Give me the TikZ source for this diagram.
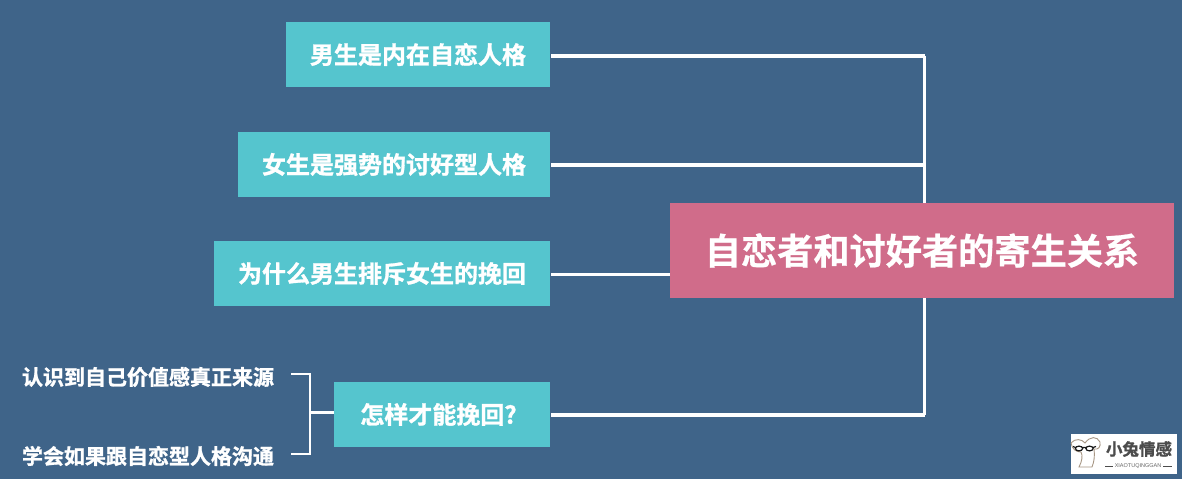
\documentclass[tikz,border=0pt]{standalone}
\usepackage{fontspec}
\newfontfamily\cjkb[FakeBold=1.2]{Noto Sans CJK SC Bold}
\newfontfamily\cjkm[FakeBold=0.6]{Noto Sans CJK SC Bold}
\newfontfamily\logolat{Liberation Sans}
\definecolor{bgc}{HTML}{3F6489}
\definecolor{tealc}{HTML}{55C5CE}
\definecolor{pinkc}{HTML}{D06C8A}
\tikzset{
  tealbox/.style={fill=tealc,text=white,inner sep=0pt,minimum height=65pt,font=\cjkb\fontsize{24}{24}\selectfont},
  mainbox/.style={fill=pinkc,text=white,inner sep=0pt,minimum width=504pt,minimum height=95pt,font=\cjkm\fontsize{36.2}{36}\selectfont},
  sidetext/.style={text=white,inner sep=0pt,font=\cjkb\fontsize{21}{21}\selectfont},
  link/.style={draw=white,line width=3.8pt},
  thinlink/.style={draw=white,line width=2.4pt}
}
\begin{document}
\begin{tikzpicture}[x=1pt,y=-1pt]
\path[use as bounding box,fill=bgc] (0,0) rectangle (1182,479);
\coordinate (t1) at (924.5,56);
\coordinate (t2) at (924.5,165);
\coordinate (t3) at (670,274.5);
\coordinate (t4) at (924.5,415);
\node[tealbox,minimum width=264pt] (a) at (418,54.5) {男生是内在自恋人格};
\node[tealbox,minimum width=312pt] (b) at (394,164.5) {女生是强势的讨好型人格};
\node[tealbox,minimum width=336pt] (c) at (382,273.5) {为什么男生排斥女生的挽回};
\node[tealbox,minimum width=216pt] (d) at (442,414.5) {\hspace*{-7pt}怎样才能挽回?};
\node[sidetext] (s1) at (148,377) {认识到自己价值感真正来源};
\node[sidetext] (s2) at (148,456) {学会如果跟自恋型人格沟通};
\draw[link,shorten >=1pt] (t1) -- (a.east |- t1);
\draw[link] (t1) -- (t4);
\draw[link,shorten >=1pt] (t4) -- (d.east |- t4);
\draw[link,shorten <=1pt] (b.east |- t2) -- (t2);
\draw[link,shorten <=1pt] (c.east |- t3) -- (t3);
\node[mainbox] (main) at (922,250.5) {自恋者和讨好者的寄生关系};
% small bracket
\coordinate (b1) at (291,374);
\coordinate (b2) at (310,374);
\coordinate (b3) at (310,454);
\coordinate (b4) at (291,454);
\coordinate (bm) at (310,412.5);
\draw[thinlink] (b1) -- (b2) -- (b3) -- (b4);
\draw[thinlink] (bm) -- (d.west |- bm);
% logo
\node[fill=white,inner sep=0pt,minimum width=106pt,minimum height=40pt] (logo) at (1124,454) {};
\node[inner sep=0pt,text=black!70,font=\cjkb\fontsize{16.5}{17}\selectfont] (logot) at (1139,449) {小兔情感};
\node[inner sep=0pt,text=black!60,font=\logolat\fontsize{5.5}{5.5}\selectfont] (logos) at (1138,466) {XIAOTUQINGGAN};
\coordinate (l1) at (1105,466); \coordinate (l2) at (1113,466);
\coordinate (l3) at (1163,466); \coordinate (l4) at (1172,466);
\draw[black!70,line width=.9pt] (l1) -- (l2) (l3) -- (l4);
% rabbit
\draw[brown!50!black!55,line width=.9pt,fill=white]
  (1071,443) .. controls (1075,438) and (1082,439) .. (1085,443)
  .. controls (1090,436) and (1097,436) .. (1100,442)
  .. controls (1101,447) and (1098,450) .. (1094,449)
  .. controls (1095,456) and (1094,462) .. (1092,467)
  -- (1079,467)
  .. controls (1082,461) and (1083,456) .. (1081,452)
  .. controls (1076,452) and (1072,449) .. (1071,443) -- cycle;
\draw[black!90,line width=1.2pt] (1079,448.5) ellipse (3.6 and 2.4) (1089.5,448.5) ellipse (3.6 and 2.4) (1082.6,447.5) -- (1086,447.5) (1075.5,447.5) -- (1073,446.5) (1093,447.5) -- (1096,446.5);
\end{tikzpicture}
\end{document}
